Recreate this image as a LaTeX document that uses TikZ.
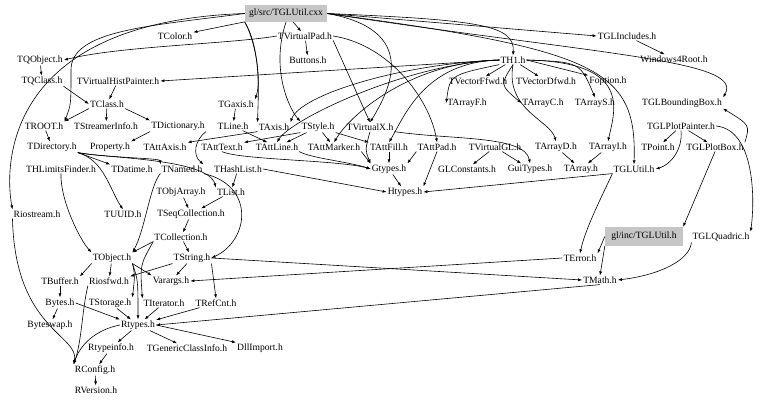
\documentclass[tikz,border=0pt]{standalone}
\usepackage{fontspec}
\setmainfont{Liberation Serif}
\usetikzlibrary{arrows.meta}

\begin{document}
\begin{tikzpicture}[x=1pt, y=-1pt,
    hdr/.style={font=\fontsize{9.6}{11}\selectfont, inner sep=1pt},
    srcbox/.style={hdr, fill=gray!45, inner sep=2pt},
    dep/.style={-{Latex[length=4pt,width=3pt]}, line width=0.6pt}]
    \useasboundingbox (0,0) rectangle (779,406);

    \node[srcbox, minimum width=82pt, minimum height=17pt] at (286,13.5) (Cxx) {gl/src/TGLUtil.cxx};
    \node[hdr] at (175,36) (TColor) {TColor.h};
    \node[hdr] at (305,36) (TVirtualPad) {TVirtualPad.h};
    \node[hdr] at (627,36) (TGLIncludes) {TGLIncludes.h};
    \node[hdr] at (40,60) (TQObject) {TQObject.h};
    \node[hdr] at (308,60) (Buttons) {Buttons.h};
    \node[hdr] at (513,60) (TH1) {TH1.h};
    \node[hdr] at (674,59) (Windows4Root) {Windows4Root.h};
    \node[hdr] at (42,81) (TQClass) {TQClass.h};
    \node[hdr] at (118,81) (TVirtualHistPainter) {TVirtualHistPainter.h};
    \node[hdr] at (478,81) (TVectorFfwd) {TVectorFfwd.h};
    \node[hdr] at (546,81) (TVectorDfwd) {TVectorDfwd.h};
    \node[hdr] at (608,81) (Foption) {Foption.h};
    \node[hdr] at (107,104) (TClass) {TClass.h};
    \node[hdr] at (236,104) (TGaxis) {TGaxis.h};
    \node[hdr] at (467,103) (TArrayF) {TArrayF.h};
    \node[hdr] at (543,103) (TArrayC) {TArrayC.h};
    \node[hdr] at (595,103) (TArrayS) {TArrayS.h};
    \node[hdr] at (682,103) (TGLBoundingBox) {TGLBoundingBox.h};
    \node[hdr] at (44,126) (TROOT) {TROOT.h};
    \node[hdr] at (106,126) (TStreamerInfo) {TStreamerInfo.h};
    \node[hdr] at (178,126) (TDictionary) {TDictionary.h};
    \node[hdr] at (233,126) (TLine) {TLine.h};
    \node[hdr] at (274,127) (TAxis) {TAxis.h};
    \node[hdr] at (318,127) (TStyle) {TStyle.h};
    \node[hdr] at (370,127) (TVirtualX) {TVirtualX.h};
    \node[hdr] at (681,126) (TGLPlotPainter) {TGLPlotPainter.h};
    \node[hdr] at (52,147) (TDirectory) {TDirectory.h};
    \node[hdr] at (110,147) (Property) {Property.h};
    \node[hdr] at (165,147) (TAttAxis) {TAttAxis.h};
    \node[hdr] at (222,147) (TAttText) {TAttText.h};
    \node[hdr] at (277,147) (TAttLine) {TAttLine.h};
    \node[hdr] at (334,147) (TAttMarker) {TAttMarker.h};
    \node[hdr] at (389,147) (TAttFill) {TAttFill.h};
    \node[hdr] at (437,147) (TAttPad) {TAttPad.h};
    \node[hdr] at (495,147) (TVirtualGL) {TVirtualGL.h};
    \node[hdr] at (556,147) (TArrayD) {TArrayD.h};
    \node[hdr] at (608,147) (TArrayI) {TArrayI.h};
    \node[hdr] at (658,147) (TPoint) {TPoint.h};
    \node[hdr] at (715,147) (TGLPlotBox) {TGLPlotBox.h};
    \node[hdr] at (61,169) (THLimitsFinder) {THLimitsFinder.h};
    \node[hdr] at (132,169) (TDatime) {TDatime.h};
    \node[hdr] at (182,169) (TNamed) {TNamed.h};
    \node[hdr] at (238,169) (THashList) {THashList.h};
    \node[hdr] at (389,169) (Gtypes) {Gtypes.h};
    \node[hdr] at (467,169) (GLConstants) {GLConstants.h};
    \node[hdr] at (530,169) (GuiTypes) {GuiTypes.h};
    \node[hdr] at (581,169) (TArray) {TArray.h};
    \node[hdr] at (634,169) (TGLUtil) {TGLUtil.h};
    \node[hdr] at (181,192) (TObjArray) {TObjArray.h};
    \node[hdr] at (231,192) (TList) {TList.h};
    \node[hdr] at (405,192) (Htypes) {Htypes.h};
    \node[hdr] at (37,214) (Riostream) {Riostream.h};
    \node[hdr] at (123,214) (TUUID) {TUUID.h};
    \node[hdr] at (191,214) (TSeqCollection) {TSeqCollection.h};
    \node[hdr] at (181,237) (TCollection) {TCollection.h};
    \node[srcbox, minimum width=78pt, minimum height=19pt] at (644,236.5) (GLIncUtil) {gl/inc/TGLUtil.h};
    \node[hdr] at (721,237) (TGLQuadric) {TGLQuadric.h};
    \node[hdr] at (112,258) (TObject) {TObject.h};
    \node[hdr] at (192,258) (TString) {TString.h};
    \node[hdr] at (580,258) (TError) {TError.h};
    \node[hdr] at (60,281) (TBuffer) {TBuffer.h};
    \node[hdr] at (109,281) (Riosfwd) {Riosfwd.h};
    \node[hdr] at (171,281) (Varargs) {Varargs.h};
    \node[hdr] at (600,280) (TMath) {TMath.h};
    \node[hdr] at (60,303) (Bytes) {Bytes.h};
    \node[hdr] at (110,303) (TStorage) {TStorage.h};
    \node[hdr] at (164,303) (TIterator) {TIterator.h};
    \node[hdr] at (216,303) (TRefCnt) {TRefCnt.h};
    \node[hdr] at (50,325) (Byteswap) {Byteswap.h};
    \node[hdr] at (138,325) (Rtypes) {Rtypes.h};
    \node[hdr] at (111,348) (Rtypeinfo) {Rtypeinfo.h};
    \node[hdr] at (187,348) (TGenericClassInfo) {TGenericClassInfo.h};
    \node[hdr] at (260,348) (DllImport) {DllImport.h};
    \node[hdr] at (95,370) (RConfig) {RConfig.h};
    \node[hdr] at (96,390) (RVersion) {RVersion.h};

    \draw[dep] (Cxx) -- (TColor);
    \draw[dep] (Cxx) -- (TVirtualPad);
    \draw[dep] (Cxx.east) -- (TGLIncludes.west);
    \draw[dep] (Cxx.east) .. controls (480,20) and (515,25) .. (TH1.north);
    \draw[dep] (Cxx.south west) .. controls (255,40) and (262,80) .. (TGaxis.north east);
    \draw[dep] (Cxx.south west) .. controls (262,50) and (258,100) .. (TAxis.north west);
    \draw[dep] (Cxx.west) .. controls (150,26) and (71,30) .. (71,70) .. controls (71,105) .. (TROOT.north east);
    \draw[dep] (Cxx.west) .. controls (0,22) and (5,170) .. (Riostream.north west);
    \draw[dep] (Cxx.south) .. controls (270,70) and (290,110) .. (TStyle.north west);
    \draw[dep] (Cxx.east) .. controls (420,30) and (390,90) .. (TVirtualX.north);
    \draw[dep] (Cxx.east) .. controls (600,50) and (637,70) .. (TGLUtil.north);
    \draw[dep] (Cxx.east) .. controls (600,55) and (745,60) .. (TGLBoundingBox.north east);
    \draw[dep] (TVirtualPad.west) .. controls (230,44) and (120,46) .. (TQObject.east);
    \draw[dep] (TVirtualPad) -- (Buttons);
    \draw[dep] (TVirtualPad.east) .. controls (390,45) and (430,100) .. (TAttPad.north);
    \draw[dep] (TVirtualPad.south east) -- (TVirtualX.north);
    \draw[dep] (TGLIncludes) -- (Windows4Root);
    \draw[dep] (TQObject) -- (TQClass);
    \draw[dep] (TQClass.south east) -- (TClass.west);
    \draw[dep] (TH1.west) -- (TVirtualHistPainter.east);
    \draw[dep] (TVirtualHistPainter) -- (TClass);
    \draw[dep] (TClass.south west) -- (TROOT.north east);
    \draw[dep] (TClass) -- (TStreamerInfo);
    \draw[dep] (TClass.south east) -- (TDictionary.north west);
    \draw[dep] (TGaxis) -- (TLine);
    \draw[dep] (TH1.west) .. controls (400,64) and (300,95) .. (TAxis.north east);
    \draw[dep] (TH1) -- (TVectorFfwd);
    \draw[dep] (TH1) -- (TVectorDfwd);
    \draw[dep] (TH1.east) -- (Foption.north west);
    \draw[dep] (TH1.south west) .. controls (450,75) .. (TArrayF.west);
    \draw[dep] (TH1.south) .. controls (500,85) .. (TArrayC.west);
    \draw[dep] (TH1.east) .. controls (580,62) .. (TArrayS.north);
    \draw[dep] (TH1.south) .. controls (505,110) and (550,120) .. (TArrayD.north);
    \draw[dep] (TH1.east) .. controls (632,62) and (615,110) .. (TArrayI.north);
    \draw[dep] (TH1.west) .. controls (425,62) and (405,115) .. (TAttFill.north);
    \draw[dep] (TH1.west) .. controls (410,62) and (350,115) .. (TAttMarker.north);
    \draw[dep] (TH1.west) .. controls (405,64) and (290,120) .. (TAttLine.north);
    \draw[dep] (TAxis.south west) -- (TAttAxis.north east);
    \draw[dep] (TStyle.south west) -- (TAttText.north east);
    \draw[dep] (TStyle) -- (TAttLine);
    \draw[dep] (TStyle) -- (TAttMarker);
    \draw[dep] (TStyle.south east) -- (TAttFill.north west);
    \draw[dep] (TVirtualX.south) .. controls (365,150) .. (Gtypes.north west);
    \draw[dep] (TVirtualX.south east) .. controls (450,140) and (525,135) .. (GuiTypes.north);
    \draw[dep] (TLine) -- (TAttLine);
    \draw[dep] (TROOT) -- (TDirectory);
    \draw[dep] (TDirectory.south east) -- (TDatime.north west);
    \draw[dep] (TDirectory.south east) .. controls (110,158) and (160,158) .. (TNamed.north west);
    \draw[dep] (TDirectory.south east) .. controls (100,158) and (208,158) .. (TList.north west);
    \draw[dep] (TDirectory.south east) .. controls (104,160) and (110,190) .. (TUUID.north);
    \draw[dep] (TDictionary.south west) -- (Property.north east);
    \draw[dep] (TDictionary.south east) .. controls (195,140) and (192,155) .. (TNamed.north east);
    \draw[dep] (TAttText.south) .. controls (240,160) and (340,160) .. (Gtypes.west);
    \draw[dep] (TAttLine.south east) .. controls (310,158) and (350,162) .. (Gtypes.west);
    \draw[dep] (TAttMarker.south east) -- (Gtypes.north west);
    \draw[dep] (TAttFill) -- (Gtypes);
    \draw[dep] (TAttPad.south west) -- (Gtypes.north east);
    \draw[dep] (TAttPad.south) -- (Htypes.north east);
    \draw[dep] (Gtypes) -- (Htypes);
    \draw[dep] (THashList.east) -- (Htypes.west);
    \draw[dep] (THashList) -- (TList);
    \draw[dep] (TVirtualGL) -- (GLConstants);
    \draw[dep] (TVirtualGL) -- (GuiTypes);
    \draw[dep] (TArrayD) -- (TArray);
    \draw[dep] (TArrayI) -- (TArray);
    \draw[dep] (TGLUtil.south west) -- (Htypes.east);
    \draw[dep] (TGLUtil.south west) .. controls (600,200) and (585,230) .. (TError.north);
    \draw[dep] (TGLPlotPainter) -- (TPoint);
    \draw[dep] (TGLPlotPainter) -- (TGLPlotBox);
    \draw[dep] (TGLPlotPainter.south) .. controls (683,150) and (670,165) .. (TGLUtil.east);
    \draw[dep] (TGLPlotPainter.east) .. controls (755,130) and (755,200) .. (TGLQuadric.north east);
    \draw[dep] (TGLPlotBox.north east) .. controls (750,125) .. (TGLBoundingBox.south east);
    \draw[dep] (TGLPlotBox.south) -- (GLIncUtil.north east);
    \draw[dep] (GLIncUtil.west) -- (TError.north east);
    \draw[dep] (GLIncUtil.south west) -- (TMath.north);
    \draw[dep] (TGLQuadric.south west) .. controls (690,260) and (660,275) .. (TMath.east);
    \draw[dep] (TError.west) -- (Varargs.east);
    \draw[dep] (TString.east) -- (TMath.west);
    \draw[dep] (TMath.south) -- (Rtypes.east);
    \draw[dep] (TObjArray) -- (TSeqCollection);
    \draw[dep] (TList) -- (TSeqCollection);
    \draw[dep] (TSeqCollection) -- (TCollection);
    \draw[dep] (TCollection.south west) -- (TObject.north east);
    \draw[dep] (TCollection) -- (TString);
    \draw[dep] (TCollection.south west) .. controls (140,265) .. (TIterator.north west);
    \draw[dep] (THLimitsFinder.south) .. controls (60,200) and (80,240) .. (TObject.north west);
    \draw[dep] (TNamed.south west) .. controls (150,185) and (145,230) .. (TObject.north east);
    \draw[dep] (TNamed.south east) .. controls (255,185) and (250,240) .. (TString.east);
    \draw[dep] (TObject.south west) -- (TBuffer.north east);
    \draw[dep] (TObject) -- (Riosfwd);
    \draw[dep] (TObject.south east) -- (Varargs.north west);
    \draw[dep] (TObject.south east) .. controls (135,275) .. (TStorage.north east);
    \draw[dep] (TObject.south east) .. controls (138,280) .. (Rtypes.north);
    \draw[dep] (TString.south west) -- (Riosfwd.north east);
    \draw[dep] (TString) -- (Varargs);
    \draw[dep] (TString.south east) -- (TRefCnt.north);
    \draw[dep] (TBuffer) -- (Bytes);
    \draw[dep] (Bytes) -- (Byteswap);
    \draw[dep] (Bytes.east) -- (Rtypes.north west);
    \draw[dep] (TStorage) -- (Rtypes);
    \draw[dep] (TIterator) -- (Rtypes);
    \draw[dep] (TRefCnt) -- (Rtypes);
    \draw[dep] (Rtypes) -- (Rtypeinfo);
    \draw[dep] (Rtypes) -- (TGenericClassInfo);
    \draw[dep] (Rtypes.east) -- (DllImport.north west);
    \draw[dep] (Rtypes.west) .. controls (95,330) and (80,345) .. (RConfig.north west);
    \draw[dep] (Rtypeinfo) -- (RConfig);
    \draw[dep] (Riosfwd.south west) .. controls (82,310) and (82,340) .. (RConfig.north west);
    \draw[dep] (Riostream.south west) .. controls (15,330) and (80,335) .. (RConfig.north west);
    \draw[dep] (RConfig) -- (RVersion);
\end{tikzpicture}
\end{document}
